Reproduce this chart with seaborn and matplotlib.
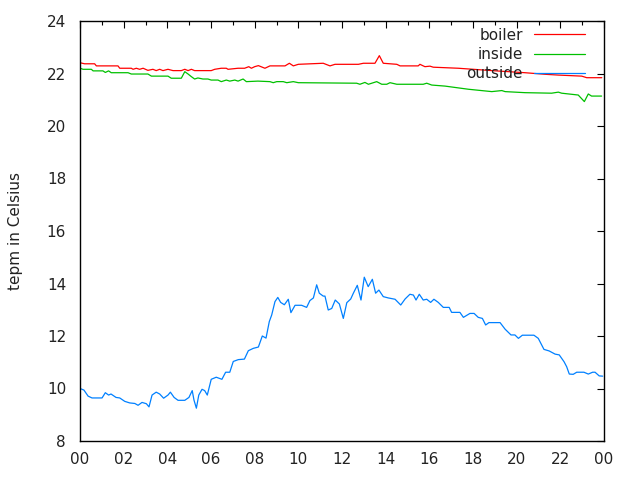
import matplotlib
matplotlib.use("Agg")
import matplotlib.pyplot as plt
import seaborn as sns
import pandas as pd
from matplotlib.ticker import MultipleLocator

# ---- data (hours since midnight, temperature in Celsius) ----
boiler_h = [0.0, 0.21, 0.67, 0.75, 1.74, 1.82, 2.35, 2.43, 2.58, 2.73, 2.89, 3.11, 3.34, 3.49, 3.65,
            3.80, 4.03, 4.26, 4.64, 4.80, 4.95, 5.10, 5.25, 6.01, 6.17, 6.47, 6.70, 6.78, 7.24, 7.54,
            7.73, 7.85, 8.00, 8.17, 8.47, 8.70, 9.39, 9.59, 9.77, 10.00, 11.14, 11.45, 11.68, 12.75,
            12.98, 13.51, 13.71, 13.89, 14.51, 14.66, 15.49, 15.57, 15.72, 15.80, 16.03, 16.18, 17.33,
            18.86, 20.38, 21.30, 21.91, 22.98, 23.21, 23.90]
boiler_t = [22.41, 22.37, 22.37, 22.29, 22.29, 22.20, 22.20, 22.16, 22.20, 22.16, 22.20, 22.12, 22.16,
            22.11, 22.16, 22.11, 22.16, 22.11, 22.11, 22.16, 22.11, 22.16, 22.11, 22.11, 22.16, 22.20,
            22.20, 22.16, 22.20, 22.20, 22.26, 22.20, 22.26, 22.30, 22.20, 22.29, 22.29, 22.39, 22.29,
            22.35, 22.39, 22.29, 22.35, 22.35, 22.39, 22.39, 22.68, 22.39, 22.35, 22.29, 22.29, 22.35,
            22.29, 22.26, 22.28, 22.24, 22.20, 22.11, 22.03, 21.97, 21.94, 21.90, 21.84, 21.84]

inside_h = [0.0, 0.14, 0.52, 0.60, 1.05, 1.16, 1.31, 1.43, 2.20, 2.35, 3.11, 3.27, 4.03, 4.18, 4.64,
            4.80, 4.95, 5.10, 5.25, 5.40, 5.63, 5.86, 6.01, 6.32, 6.47, 6.70, 6.86, 7.09, 7.24, 7.47,
            7.62, 8.15, 8.70, 8.85, 9.01, 9.31, 9.47, 9.77, 10.00, 12.67, 12.82, 13.05, 13.21, 13.59,
            13.82, 14.05, 14.20, 14.51, 15.72, 15.88, 16.11, 16.72, 17.79, 18.86, 19.32, 19.47, 20.38,
            21.60, 21.91, 22.06, 22.82, 23.10, 23.28, 23.43, 23.89]
inside_t = [22.20, 22.16, 22.16, 22.10, 22.10, 22.04, 22.10, 22.03, 22.03, 21.98, 21.98, 21.90, 21.90,
            21.82, 21.82, 22.07, 21.98, 21.88, 21.79, 21.83, 21.79, 21.79, 21.75, 21.75, 21.69, 21.75,
            21.71, 21.75, 21.71, 21.79, 21.69, 21.71, 21.69, 21.65, 21.69, 21.69, 21.65, 21.69, 21.65,
            21.63, 21.59, 21.66, 21.59, 21.69, 21.59, 21.59, 21.65, 21.59, 21.59, 21.63, 21.56, 21.52,
            21.40, 21.31, 21.35, 21.31, 21.27, 21.25, 21.29, 21.25, 21.18, 20.93, 21.22, 21.14, 21.14]

outside_h = [0.0, 0.18, 0.37, 0.55, 1.01, 1.16, 1.31, 1.42, 1.65, 1.82, 2.05, 2.28, 2.51, 2.66, 2.84,
             3.04, 3.16, 3.30, 3.49, 3.65, 3.83, 4.03, 4.14, 4.31, 4.49, 4.80, 4.99, 5.14, 5.22, 5.33,
             5.44, 5.59, 5.71, 5.83, 6.01, 6.24, 6.50, 6.67, 6.86, 7.02, 7.25, 7.53, 7.71, 7.94, 8.17,
             8.35, 8.52, 8.67, 8.78, 8.93, 9.06, 9.19, 9.36, 9.54, 9.66, 9.85, 10.15, 10.38, 10.53,
             10.69, 10.84, 10.96, 11.14, 11.22, 11.37, 11.53, 11.69, 11.88, 12.06, 12.22, 12.40, 12.52,
             12.70, 12.87, 13.02, 13.20, 13.39, 13.54, 13.69, 13.89, 14.12, 14.43, 14.69, 14.89, 15.11,
             15.27, 15.39, 15.54, 15.72, 15.88, 16.06, 16.21, 16.41, 16.64, 16.91, 17.02, 17.40, 17.56,
             17.86, 18.05, 18.24, 18.43, 18.58, 18.73, 19.24, 19.47, 19.74, 19.92, 20.08, 20.26, 20.79,
             20.99, 21.25, 21.49, 21.76, 21.95, 22.17, 22.29, 22.41, 22.59, 22.75, 23.08, 23.28, 23.48,
             23.59, 23.78, 23.94]
outside_t = [10.00, 9.94, 9.71, 9.64, 9.64, 9.84, 9.75, 9.79, 9.66, 9.64, 9.51, 9.45, 9.43, 9.36, 9.47,
             9.42, 9.30, 9.75, 9.86, 9.79, 9.63, 9.75, 9.86, 9.66, 9.55, 9.55, 9.66, 9.92, 9.56, 9.25,
             9.75, 9.97, 9.92, 9.75, 10.35, 10.43, 10.35, 10.62, 10.62, 11.03, 11.10, 11.12, 11.44,
             11.53, 11.58, 12.00, 11.92, 12.55, 12.80, 13.31, 13.47, 13.28, 13.19, 13.40, 12.89, 13.17,
             13.17, 13.09, 13.35, 13.45, 13.95, 13.63, 13.52, 13.52, 12.99, 13.05, 13.37, 13.22, 12.67,
             13.27, 13.41, 13.63, 13.93, 13.37, 14.24, 13.88, 14.16, 13.63, 13.75, 13.50, 13.45, 13.40,
             13.18, 13.41, 13.59, 13.56, 13.37, 13.59, 13.37, 13.40, 13.28, 13.40, 13.28, 13.09, 13.09,
             12.90, 12.90, 12.71, 12.86, 12.86, 12.71, 12.67, 12.42, 12.51, 12.51, 12.26, 12.04, 12.04,
             11.91, 12.03, 12.03, 11.91, 11.49, 11.43, 11.31, 11.28, 11.02, 10.83, 10.55, 10.54, 10.62,
             10.62, 10.55, 10.62, 10.62, 10.48, 10.47]

series_names = ["boiler", "inside", "outside"]
series_colors = ["#ff0000", "#00c000", "#0080ff"]
x_tick_pos = [0, 2, 4, 6, 8, 10, 12, 14, 16, 18, 20, 22, 24]
x_tick_labels = ["00", "02", "04", "06", "08", "10", "12", "14", "16", "18", "20", "22", "00"]
y_ticks = [8, 10, 12, 14, 16, 18, 20, 22, 24]
y_label = "tepm in Celsius"

frames = []
for name, h, t in [("boiler", boiler_h, boiler_t), ("inside", inside_h, inside_t),
                   ("outside", outside_h, outside_t)]:
    frames.append(pd.DataFrame({"hour": h, "temp": t, "series": name}))
df = pd.concat(frames, ignore_index=True)

sns.set_style("white")
plt.rcParams["font.family"] = ["DejaVu Sans"]

fig = plt.figure(figsize=(6.4, 4.8), dpi=100)
ax = fig.add_axes([80 / 640, 39 / 480, 524 / 640, 420 / 480])

sns.lineplot(data=df, x="hour", y="temp", hue="series", hue_order=series_names,
             palette=dict(zip(series_names, series_colors)), estimator=None, sort=True,
             linewidth=0.9, ax=ax, legend=True)

ax.set_xlim(0, 24)
ax.set_ylim(8, 24)
ax.set_xticks(x_tick_pos)
ax.set_xticklabels(x_tick_labels)
ax.xaxis.set_minor_locator(MultipleLocator(1))
ax.set_yticks(y_ticks)
ax.set_xlabel("")
ax.set_ylabel(y_label, fontsize=11, color="#222222", labelpad=17)

for s in ax.spines.values():
    s.set_visible(True)
    s.set_color("black")
    s.set_linewidth(1.0)

ax.tick_params(axis="both", which="both", direction="in", top=True, right=True,
               color="black", labelsize=11, labelcolor="#222222")
ax.tick_params(axis="both", which="major", length=5, width=0.8)
ax.tick_params(axis="x", which="minor", length=3, width=0.8)
ax.tick_params(axis="x", which="major", pad=8)
ax.tick_params(axis="y", which="major", pad=10)

handles, labels = ax.get_legend_handles_labels()
leg = ax.legend(handles, labels, loc="upper right", bbox_to_anchor=(0.981, 1.006),
                frameon=False, markerfirst=False, fontsize=11, handlelength=3.3,
                handletextpad=0.75, labelspacing=0.28, borderaxespad=0.2)
for line in leg.get_lines():
    line.set_linewidth(0.9)
for t in leg.get_texts():
    t.set_color("#222222")

fig.savefig("out.png", dpi=100, facecolor="white")
